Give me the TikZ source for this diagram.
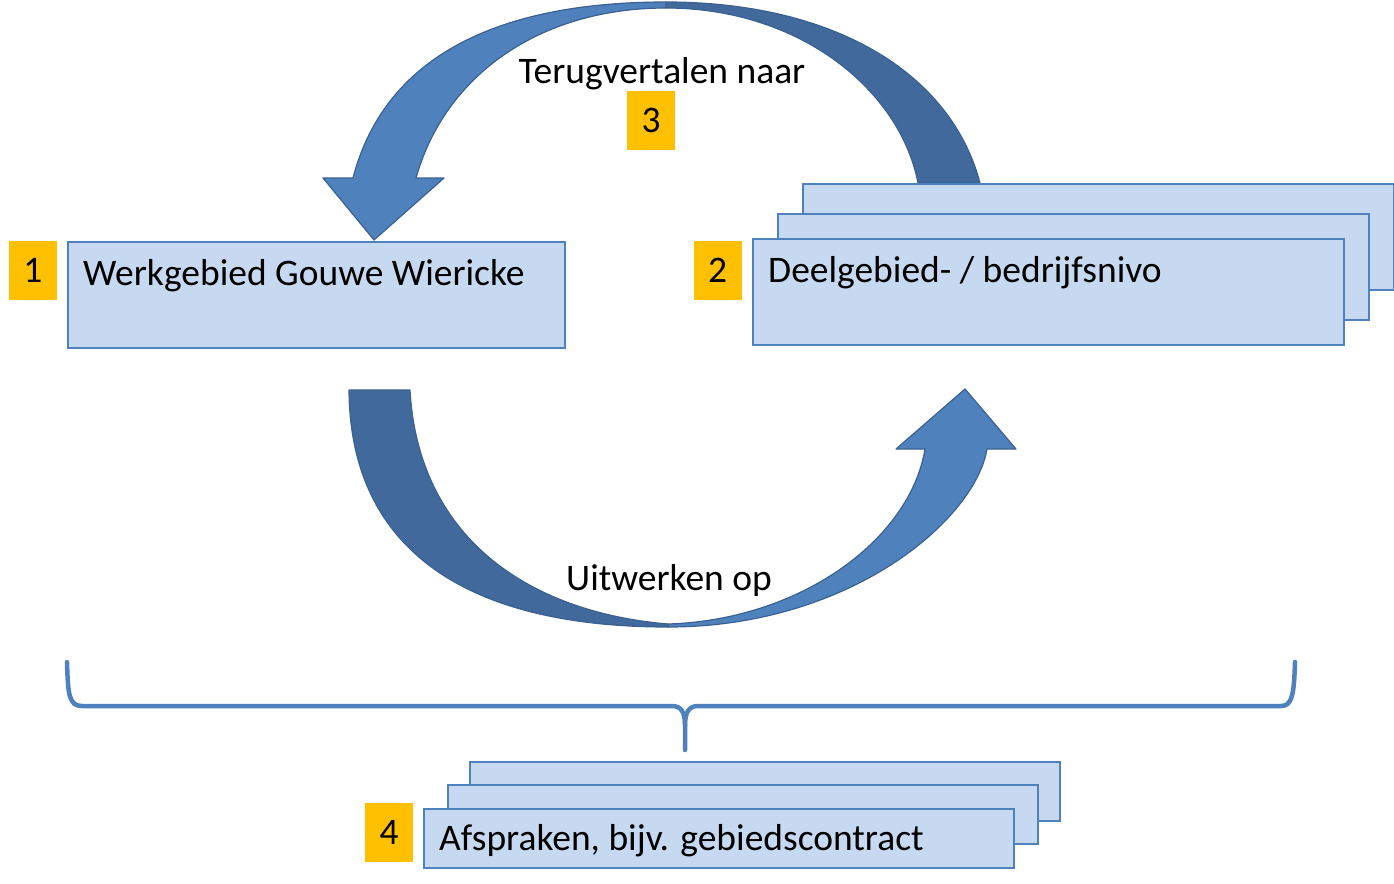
\documentclass[tikz,border=0pt]{standalone}
\usepackage{fontspec}
\setmainfont{Carlito}
\usetikzlibrary{positioning}
\definecolor{GWBlue}{HTML}{4F81BD}
\definecolor{GWDark}{HTML}{41699B}
\definecolor{GWEdge}{HTML}{3A6191}
\definecolor{GWLight}{HTML}{C6D9F1}
\definecolor{GWGold}{HTML}{FFC000}
\begin{document}
\begin{tikzpicture}[x=1pt,y=-1pt,
  b/.style={draw=GWBlue,line width=2.2pt,fill=GWLight,anchor=north west,inner sep=0pt},
  nr/.style={fill=GWGold,minimum width=48pt,minimum height=59pt,inner sep=0pt,font=\fontsize{37.5}{44}\selectfont},
  t/.style={anchor=base west,inner sep=0pt,font=\fontsize{37.5}{44}\selectfont},
  ar/.style={draw=GWEdge,line width=1.2pt,line join=round},
  brc/.style={draw=GWBlue,line width=4.5pt,line cap=round}]
\useasboundingbox (0,0) rectangle (1394,883);
\draw[ar,fill=GWDark] (666,2) .. controls (830,2) and (950,70) .. (980,183) -- (918,183) .. controls (900,90) and (800,8) .. (666,8) -- cycle;
\draw[ar,fill=GWBlue] (666,2) .. controls (500,2) and (385,55) .. (353,178) -- (323,178) -- (374,240) -- (444,178) -- (416,178) .. controls (445,75) and (540,8) .. (666,8) -- cycle;
\draw[ar,fill=GWDark] (349,390) .. controls (350,545) and (460,627) .. (668,627) -- (668,624) .. controls (525,612) and (418,535) .. (410,390) -- cycle;
\draw[ar,fill=GWBlue] (668,627) .. controls (850,627) and (975,520) .. (987,449) -- (1016,449) -- (965,389) -- (896,449) -- (925,449) .. controls (910,540) and (800,620) .. (668,624) -- cycle;
\node[b,minimum width=497pt,minimum height=106pt] (w) at (67,241) {};
\node[b,minimum width=591pt,minimum height=106pt] (d3) at (802,183) {};
\node[b,minimum width=591pt,minimum height=106pt] (d2) at (777,213) {};
\node[b,minimum width=591pt,minimum height=106pt] (d1) at (752,238) {};
\node[b,minimum width=590pt,minimum height=59pt] (a3) at (469,761) {};
\node[b,minimum width=590pt,minimum height=59pt] (a2) at (447,784) {};
\node[b,minimum width=590pt,minimum height=59pt] (a1) at (423,808) {};
\node[t] (wt) at (83,285) {Werkgebied Gouwe Wiericke};
\node[t] (dt) at (768,282) {Deelgebied- / bedrijfsnivo};
\node[t] (at) at (439,850) {Afspraken, bijv. gebiedscontract};
\node[t,anchor=base] (terug) at (662,83) {Terugvertalen naar};
\node[t,anchor=base] (uitw) at (669,590) {Uitwerken op};
\node[nr] (n1) at (33,270.5) {1};
\node[nr] (n2) at (717.5,270.5) {2};
\node[nr] (n3) at (651,120.5) {3};
\node[nr] (n4) at (389,832.5) {4};
\coordinate (bl) at (67,662);
\coordinate (br) at (1295,662);
\coordinate (bt) at (685,750);
\draw[brc] (bl) .. controls (68,695) and (69,706) .. (82,706) -- (672,706) .. controls (681,706) and (685,712) .. (685,725) -- (bt);
\draw[brc] (685,725) .. controls (685,712) and (689,706) .. (698,706) -- (1281,706) .. controls (1292,706) and (1294,695) .. (br);
\end{tikzpicture}
\end{document}
